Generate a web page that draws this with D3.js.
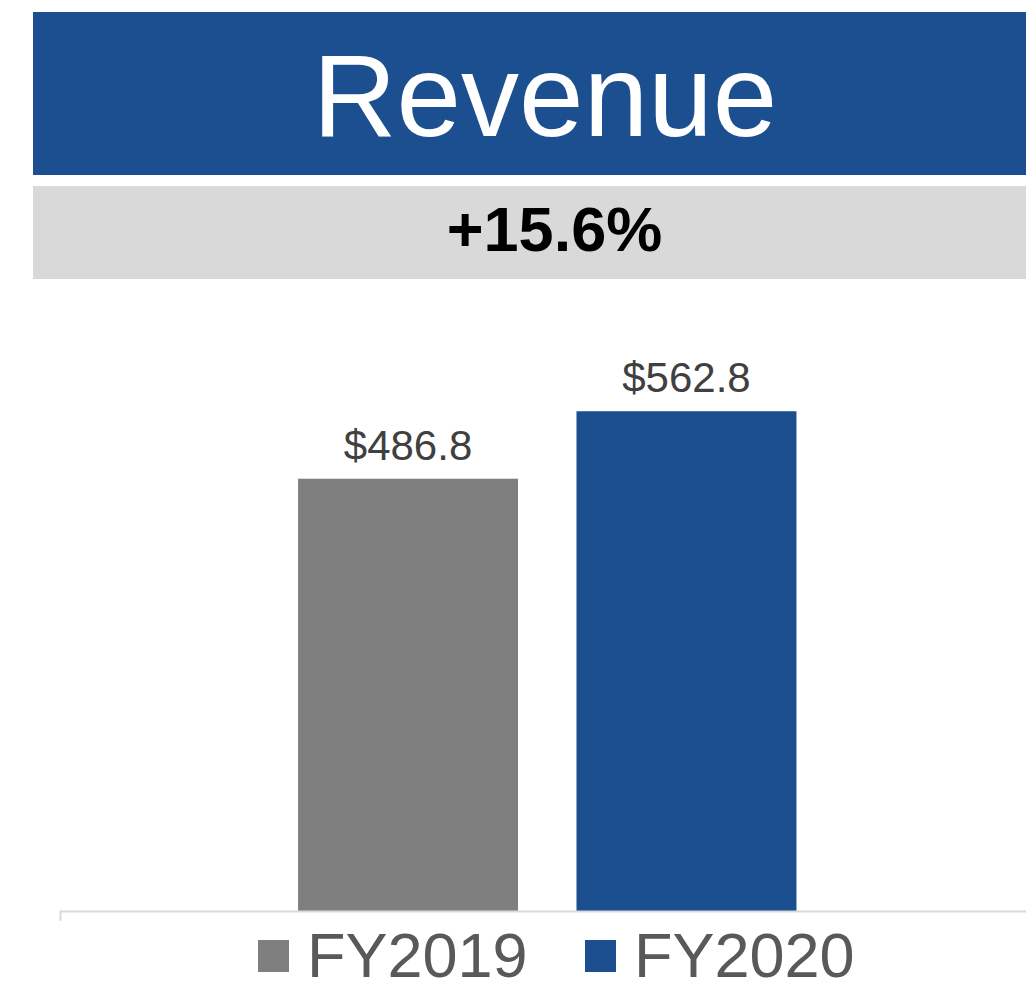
<!DOCTYPE html>
<html>
<head>
<meta charset="utf-8">
<script src="https://cdn.jsdelivr.net/npm/d3@7"></script>
<style>
  html, body { margin: 0; padding: 0; background: #ffffff; }
  svg { display: block; font-family: "Liberation Sans", Arial, sans-serif; }
</style>
</head>
<body>
<svg id="chart" width="1026" height="986"></svg>
<script>
const title = "Revenue";
const growthLabel = "+15.6%";
const categories = ["FY2019", "FY2020"];
const values = [486.8, 562.8];
const valueLabels = ["$486.8", "$562.8"];
const colors = ["#7f7f7f", "#1c4f8f"];

const svg = d3.select("#chart");

// Title banner
svg.append("rect").attr("x", 33).attr("y", 12).attr("width", 1010).attr("height", 163).attr("fill", "#1c4f8f");
svg.append("text").attr("x", 545).attr("y", 136).attr("text-anchor", "middle")
  .attr("fill", "#ffffff").attr("font-size", 116).text(title);

// Growth band
svg.append("rect").attr("x", 33).attr("y", 186).attr("width", 1010).attr("height", 93).attr("fill", "#d9d9d9");
svg.append("text").attr("x", 554.5).attr("y", 251).attr("text-anchor", "middle")
  .attr("fill", "#000000").attr("font-size", 63).attr("font-weight", "bold").text(growthLabel);

// Scales
const x = d3.scaleBand().domain(categories).range([60, 1034.5]).paddingInner(0.21).paddingOuter(0.855);
const y = d3.scaleLinear().domain([0, 600]).range([911, 911 - 600 * 0.888]);

// Bars
svg.append("g").selectAll("rect").data(categories).join("rect")
  .attr("x", d => x(d))
  .attr("y", (d, i) => y(values[i]))
  .attr("width", x.bandwidth())
  .attr("height", (d, i) => y(0) - y(values[i]))
  .attr("fill", (d, i) => colors[i]);

// Value labels
svg.append("g").selectAll("text").data(categories).join("text")
  .attr("x", d => x(d) + x.bandwidth() / 2)
  .attr("y", (d, i) => y(values[i]) - 19)
  .attr("text-anchor", "middle")
  .attr("fill", "#404040")
  .attr("font-size", 42)
  .text((d, i) => valueLabels[i]);

// Axis
const axis = d3.axisBottom(x).tickSize(0).tickFormat("");
const ag = svg.append("g").attr("transform", `translate(0,${y(0)})`).call(axis);
ag.select(".domain").attr("stroke", "#d9d9d9").attr("stroke-width", 2)
  .attr("d", `M60.5,10V0.5H1034.5`);

// Legend
const legendX = [258, 585];
const lg = svg.append("g").selectAll("g").data(categories).join("g")
  .attr("transform", (d, i) => `translate(${legendX[i]},0)`);
lg.append("rect").attr("x", 0).attr("y", 940).attr("width", 31).attr("height", 32)
  .attr("fill", (d, i) => colors[i]);
lg.append("text").attr("x", 49).attr("y", 977).attr("fill", "#595959").attr("font-size", 63)
  .text(d => d);
</script>
</body>
</html>
